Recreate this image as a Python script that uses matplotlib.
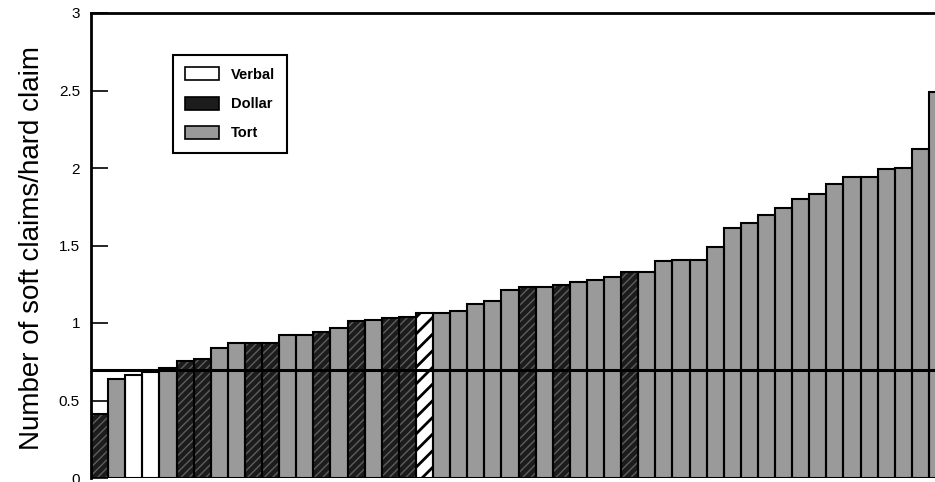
import matplotlib
matplotlib.use("Agg")
import matplotlib.pyplot as plt
from matplotlib.patches import Patch
import numpy as np

plt.rcParams['font.family'] = ['Liberation Sans', 'DejaVu Sans']
plt.rcParams['hatch.linewidth'] = 1.0

# ---- data -------------------------------------------------------------
# claim type per bar: V = Verbal, D = Dollar, T = Tort, H = hatched (unlabelled)
claim_types = list("DTVVTDDTTDDTTDTDTDDHTTTTTDTDTTTDTTTTTTTTTTTTTTTTTT")
ratios = [0.41, 0.64, 0.667, 0.686, 0.71, 0.755, 0.77, 0.837, 0.87, 0.87,
          0.87, 0.92, 0.92, 0.944, 0.966, 1.01, 1.02, 1.035, 1.04, 1.065,
          1.065, 1.08, 1.12, 1.14, 1.21, 1.23, 1.235, 1.245, 1.265, 1.28,
          1.30, 1.33, 1.33, 1.40, 1.405, 1.405, 1.49, 1.61, 1.647, 1.697,
          1.744, 1.80, 1.832, 1.90, 1.944, 1.944, 1.994, 2.0, 2.12, 2.49]
reference_level = 0.7
y_ticks = [0, 0.5, 1, 1.5, 2, 2.5, 3]
y_tick_labels = ["0", "0.5", "1", "1.5", "2", "2.5", "3"]
legend_labels = ["Verbal", "Dollar", "Tort"]
y_label = "Number of soft claims/hard claim"

# ---- styles -----------------------------------------------------------
face = {"V": "white", "D": "#1c1c1c", "T": "#9a9a9a", "H": "white"}
hatch = {"V": None, "D": "////", "T": None, "H": "//"}
hatch_col = {"V": "black", "D": "#5e5e5e", "T": "black", "H": "black"}
hatch_lw = {"V": 1.0, "D": 1.0, "T": 1.0, "H": 2.0}

W, H = 935, 482
fig = plt.figure(figsize=(W / 100, H / 100), dpi=100)
left_px, right_px, top_px, bot_px = 91, 946, 13, 478
ax = fig.add_axes([left_px / W, 1 - bot_px / H,
                   (right_px - left_px) / W, (bot_px - top_px) / H])

x = np.arange(len(ratios))
for t in "VDTH":
    idx = [i for i, c in enumerate(claim_types) if c == t]
    if not idx:
        continue
    with plt.rc_context({'hatch.linewidth': hatch_lw[t]}):
        ax.bar(x[idx], [ratios[i] for i in idx], width=1.0, color=face[t],
               hatch=hatch[t], edgecolor=hatch_col[t], linewidth=0, zorder=2)
# black outlines
ax.bar(x, ratios, width=1.0, fill=False, edgecolor="black", linewidth=1.5,
       zorder=3)

ax.axhline(reference_level, color="black", linewidth=2.2, zorder=4)

ax.set_xlim(-0.5, len(ratios) - 0.5)
ax.set_ylim(0, 3)
ax.set_yticks(y_ticks)
ax.set_yticklabels(y_tick_labels)
ax.set_xticks([])
ax.tick_params(axis="y", direction="in", length=12, width=1.2, pad=8,
               labelsize=11)
for s in ["left", "top", "right"]:
    ax.spines[s].set_linewidth(2)
ax.spines["bottom"].set_visible(False)

fig.text(32 / W, 1 - 248 / H, y_label, rotation=90, fontsize=20,
         ha="center", va="center")

handles = [Patch(facecolor=face[t], edgecolor="black", linewidth=1.2,
                 hatch=None) for t in "VDT"]
leg = ax.legend(handles, legend_labels, loc="upper left",
                bbox_to_anchor=(173 / W, 1 - 55 / H),
                bbox_transform=fig.transFigure, borderaxespad=0,
                prop={'size': 10.5, 'weight': 'bold'},
                handlelength=2.3, handleheight=1.0,
                handletextpad=0.8, borderpad=0.85, labelspacing=1.0,
                fancybox=False, framealpha=1, edgecolor="black")
leg.get_frame().set_linewidth(1.5)
leg.set_zorder(6)

fig.savefig("out.png", dpi=100)
